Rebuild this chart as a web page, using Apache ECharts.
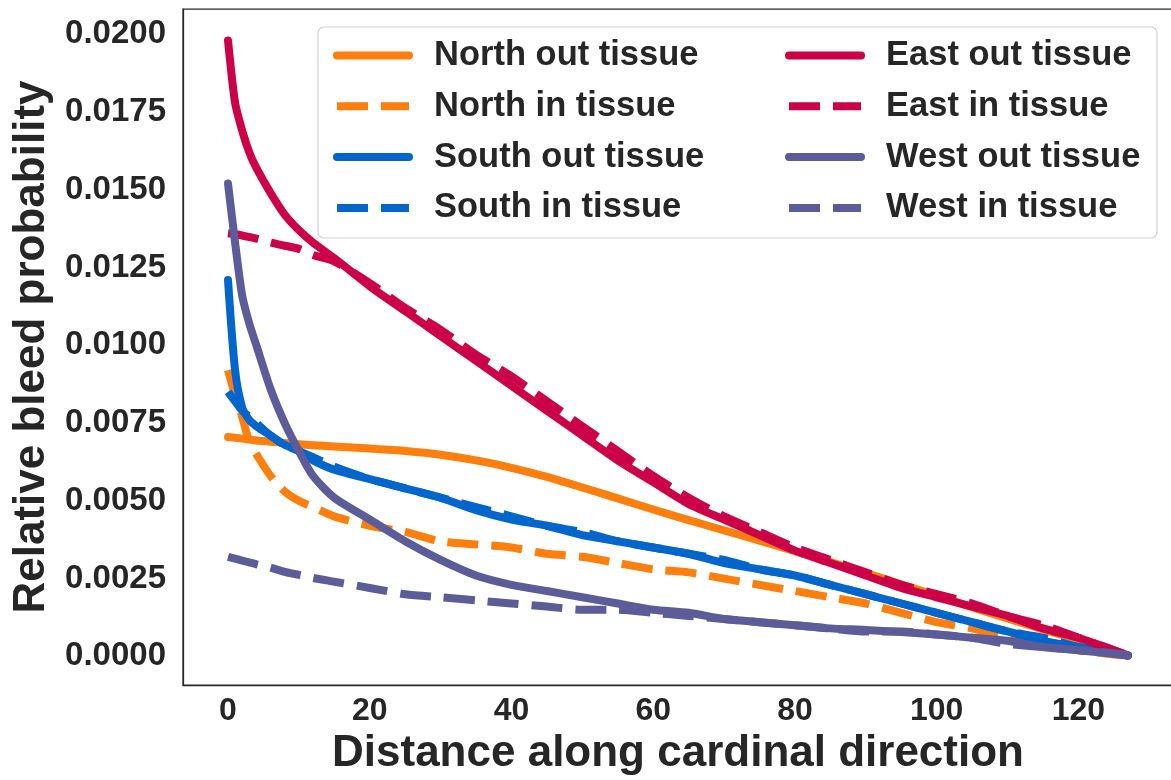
<!DOCTYPE html>
<html>
<head>
<meta charset="utf-8">
<script src="https://cdn.jsdelivr.net/npm/echarts@6/dist/echarts.min.js"></script>
<style>
  html, body { margin: 0; padding: 0; background: #fff; }
  #chart { width: 1171px; height: 780px; }
</style>
</head>
<body>
<div id="chart"></div>
<script>
var xs = [0, 1, 2, 3, 4, 6, 8, 10, 12, 15, 20, 25, 30, 35, 40, 45, 50, 55, 60, 65, 70, 75, 80, 85, 90, 95, 100, 105, 110, 115, 120, 125, 127];

var northOut = [0.00705, 0.00703, 0.00700, 0.00697, 0.00694, 0.00690, 0.00686, 0.00682, 0.00679, 0.00675, 0.00668, 0.00660, 0.00648, 0.00630, 0.00606, 0.00577, 0.00543, 0.00508, 0.00472, 0.00438, 0.00405, 0.00372, 0.00338, 0.00303, 0.00268, 0.00232, 0.00195, 0.00158, 0.00122, 0.00087, 0.00052, 0.00016, 0.00003];
var northIn = [0.0092, 0.0084, 0.0077, 0.0069, 0.0065, 0.0058, 0.0053, 0.0050, 0.0048, 0.0045, 0.0042, 0.0040, 0.0037, 0.0036, 0.0035, 0.0033, 0.0032, 0.0030, 0.0028, 0.0027, 0.0025, 0.0023, 0.0021, 0.0019, 0.0017, 0.0014, 0.0011, 0.0009, 0.0006, 0.0004, 0.0002, 0.00006, 0.00003];
var southOut = [0.0121, 0.0092, 0.0080, 0.0076, 0.0074, 0.0071, 0.0068, 0.0066, 0.0063, 0.0060, 0.0057, 0.0054, 0.0051, 0.0047, 0.0044, 0.0042, 0.0039, 0.0037, 0.0035, 0.0033, 0.0030, 0.0028, 0.0026, 0.0023, 0.0020, 0.0017, 0.0014, 0.0011, 0.0008, 0.0005, 0.0003, 0.0001, 0.00003];
var southIn = [0.0085, 0.0082, 0.0079, 0.0077, 0.0075, 0.0071, 0.0068, 0.0066, 0.0064, 0.0061, 0.0057, 0.0054, 0.0051, 0.0048, 0.0045, 0.0042, 0.0040, 0.0037, 0.0035, 0.0033, 0.0031, 0.0028, 0.0026, 0.0023, 0.0020, 0.0017, 0.0014, 0.0011, 0.0008, 0.0006, 0.0003, 0.0001, 0.00003];
var eastOut = [0.0198, 0.0178, 0.0169, 0.0162, 0.0157, 0.0149, 0.0142, 0.0137, 0.0133, 0.0128, 0.0119, 0.0111, 0.0103, 0.0095, 0.0087, 0.0079, 0.0071, 0.0063, 0.0056, 0.0049, 0.0044, 0.0039, 0.0034, 0.0030, 0.0026, 0.0022, 0.0019, 0.0016, 0.0013, 0.0009, 0.0006, 0.0002, 0.00003];
var eastIn = [0.0136, 0.01357, 0.01353, 0.01348, 0.01343, 0.0133, 0.0132, 0.0131, 0.0129, 0.0127, 0.0120, 0.0112, 0.0105, 0.0097, 0.0090, 0.0082, 0.0074, 0.0066, 0.0058, 0.0051, 0.0045, 0.0040, 0.0035, 0.0031, 0.0027, 0.0023, 0.0020, 0.0017, 0.0013, 0.0010, 0.0006, 0.0002, 0.00003];
var westOut = [0.0152, 0.0133, 0.0116, 0.0107, 0.0100, 0.0086, 0.0075, 0.0066, 0.0058, 0.0051, 0.0044, 0.0037, 0.0031, 0.0026, 0.0023, 0.0021, 0.0019, 0.0017, 0.0015, 0.0014, 0.0012, 0.0011, 0.0010, 0.0009, 0.00085, 0.00078, 0.0007, 0.0006, 0.0005, 0.0003, 0.0002, 0.00008, 0.00003];
var westIn = [0.0032, 0.00314, 0.00308, 0.00302, 0.00296, 0.00285, 0.00272, 0.00262, 0.00252, 0.0024, 0.0022, 0.0020, 0.0019, 0.0018, 0.0017, 0.0016, 0.0015, 0.0015, 0.0014, 0.0013, 0.0012, 0.0011, 0.0010, 0.0009, 0.0008, 0.0008, 0.0007, 0.0006, 0.0004, 0.0003, 0.0002, 0.0001, 0.00003];

var xTicks = [0, 20, 40, 60, 80, 100, 120];
var yTicks = [0, 0.0025, 0.005, 0.0075, 0.01, 0.0125, 0.015, 0.0175, 0.02];

var seriesNames = ['North out tissue', 'North in tissue', 'South out tissue', 'South in tissue',
                   'East out tissue', 'East in tissue', 'West out tissue', 'West in tissue'];
var seriesValues = [northOut, northIn, southOut, southIn, eastOut, eastIn, westOut, westIn];
var seriesColors = ['#ff7f0e', '#ff7f0e', '#0066cc', '#0066cc', '#cc0047', '#cc0047', '#5c5c99', '#5c5c99'];

var FONT = 'Liberation Sans, Arial, Helvetica, sans-serif';
var INK = '#262626';

var dom = document.getElementById('chart');
var myChart = echarts.init(dom, null, { renderer: 'canvas' });

var series = seriesNames.map(function (name, k) {
  var dashed = k % 2 === 1;
  return {
    name: name,
    type: 'line',
    data: xs.map(function (x, i) { return [x, seriesValues[k][i]]; }),
    showSymbol: false,
    symbol: 'none',
    smooth: 0.25,
    color: seriesColors[k],
    lineStyle: {
      color: seriesColors[k],
      width: 8,
      type: dashed ? [31, 13] : 'solid',
      cap: dashed ? 'butt' : 'round',
      join: 'round'
    }
  };
});

var legendCommon = {
  orient: 'vertical',
  top: 38,
  itemWidth: 72,
  itemHeight: 30,
  itemGap: 15.8,
  padding: 0,
  selectedMode: false,
  itemStyle: { opacity: 0 },
  lineStyle: { width: 8 },
  textStyle: {
    fontFamily: FONT,
    fontSize: 34.5,
    fontWeight: 'bold',
    color: INK,
    lineHeight: 30,
    padding: [0, 0, 0, 20]
  }
};

var option = {
  animation: false,
  backgroundColor: '#ffffff',
  grid: {
    left: 183,
    top: 9,
    width: 990,
    height: 676,
    outerBoundsMode: 'none',
    containLabel: false,
    show: true,
    borderColor: INK,
    borderWidth: 1.25,
    backgroundColor: 'transparent'
  },
  legend: [
    Object.assign({}, legendCommon, { left: 333, data: seriesNames.slice(0, 4) }),
    Object.assign({}, legendCommon, { left: 785, data: seriesNames.slice(4, 8) })
  ],
  graphic: [{
    type: 'rect',
    z: 3,
    shape: { x: 318, y: 27, width: 839, height: 211, r: 6 },
    style: { fill: 'rgba(255,255,255,0.8)', stroke: '#d3d3d3', lineWidth: 1.2 }
  }],
  xAxis: {
    type: 'value',
    min: -6.35,
    max: 133.35,
    name: 'Distance along cardinal direction',
    nameLocation: 'middle',
    nameGap: 47,
    nameTextStyle: { fontFamily: FONT, fontSize: 44, fontWeight: 'bold', color: INK },
    axisLine: { show: true, onZero: false, lineStyle: { color: INK, width: 1.25 } },
    axisTick: { show: false },
    splitLine: { show: false },
    axisLabel: {
      customValues: xTicks,
      margin: 10,
      fontFamily: FONT,
      fontSize: 32,
      fontWeight: 'bold',
      color: INK
    }
  },
  yAxis: {
    type: 'value',
    min: -0.00092,
    max: 0.02081,
    name: 'Relative bleed probability',
    nameLocation: 'middle',
    nameGap: 128,
    nameTextStyle: { fontFamily: FONT, fontSize: 44, fontWeight: 'bold', color: INK },
    axisLine: { show: true, onZero: false, lineStyle: { color: INK, width: 1.25 } },
    axisTick: { show: false },
    splitLine: { show: false },
    axisLabel: {
      customValues: yTicks,
      margin: 17,
      fontFamily: FONT,
      fontSize: 33,
      fontWeight: 'bold',
      color: INK,
      formatter: function (v) { return v.toFixed(4); }
    }
  },
  series: series
};

myChart.setOption(option);
window.addEventListener('resize', myChart.resize);
</script>
</body>
</html>
